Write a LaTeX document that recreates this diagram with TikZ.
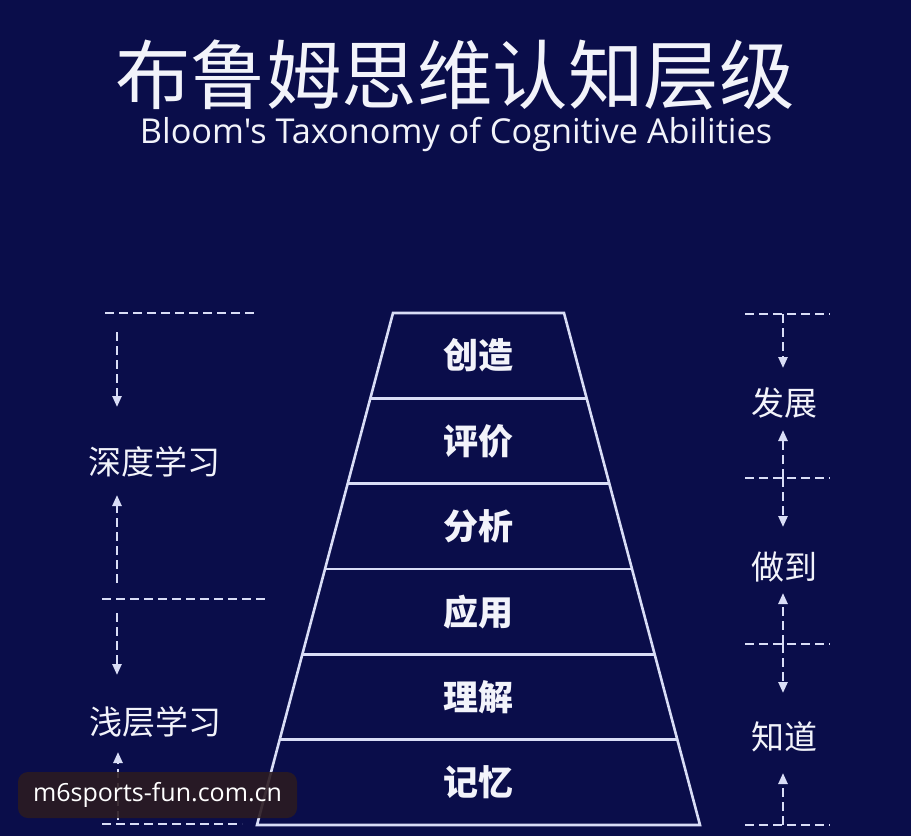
\documentclass[tikz,border=0pt]{standalone}
\usepackage{fontspec}
\usetikzlibrary{arrows.meta,calc}
\newfontfamily\cjk{Noto Sans CJK SC}
\newfontfamily\latin{Open Sans}
\definecolor{bg}{HTML}{0A0D4A}
\definecolor{edge}{HTML}{D9DDF6}
\definecolor{ink}{HTML}{F2F3FA}
\definecolor{mark}{HTML}{2B1B22}
\tikzset{
  dline/.style={edge, line width=2.4pt, dash pattern=on 9pt off 5pt},
  darrow/.style={dline, -{Triangle[length=11pt,width=9pt]}},
  pline/.style={edge, line width=2.6pt},
  level/.style={text=ink, font=\cjk\bfseries\fontsize{35}{40}\selectfont},
  side/.style={text=ink, font=\cjk\fontsize{33}{40}\selectfont},
}
\begin{document}
\begin{tikzpicture}[x=1pt,y=-1pt]
    \fill[bg] (0,0) rectangle (911,836);
    \useasboundingbox (0,0) rectangle (911,836);
    % title
    \node[text=ink, font=\cjk\fontsize{75.5}{80}\selectfont] (title) at (455,75) {布鲁姆思维认知层级};
    \node[text=ink, font=\latin\fontsize{34.3}{40}\selectfont] (subtitle) at (456,134) {Bloom's Taxonomy of Cognitive Abilities};
    % pyramid
    \coordinate (tl) at (393,313); \coordinate (tr) at (564,313);
    \coordinate (bl) at (257,825); \coordinate (br) at (700,825);
    \coordinate (tc) at (478.5,313); \coordinate (bc) at (478.5,825);
    \draw[pline] (tl) -- (tr) -- (br) -- (bl) -- cycle;
    \foreach \i in {1,...,5}
        \draw[pline] ($(tl)!\i/6!(bl)$) -- ($(tr)!\i/6!(br)$);
    \foreach \t [count=\i] in {创造,评价,分析,应用,理解,记忆}
        \node[level] (lvl\i) at ($(tc)!{(\i-0.5)/6}!(bc)$) {\t};
    % left: deep / shallow learning
    \draw[dline] (105,313) -- (257,313) (102,599) -- (265,599) (102,824) -- (242,824);
    \node[side] (deep) at (154,462) {深度学习};
    \node[side] (shallow) at (155,722) {浅层学习};
    \coordinate (d1) at (117,332); \coordinate (d1e) at (117,407);
    \coordinate (d2) at (117,583); \coordinate (d2e) at (117,495);
    \coordinate (s1) at (117,613); \coordinate (s1e) at (117,675);
    \coordinate (s2) at (118,820); \coordinate (s2e) at (118,752);
    \draw[darrow] (d1) -- (d1e);
    \draw[darrow] (d2) -- (d2e);
    \draw[darrow] (s1) -- (s1e);
    \draw[darrow] (s2) -- (s2e);
    % right: develop / do / know
    \draw[dline] (745,314) -- (830,314) (745,478) -- (830,478) (745,644) -- (830,644) (745,825) -- (830,825);
    \node[side] (grow) at (784,403) {发展};
    \node[side] (doit) at (784,567) {做到};
    \node[side] (know) at (784,737) {知道};
    \coordinate (r0) at (783,314); \coordinate (r1) at (783,478);
    \coordinate (r2) at (783,644); \coordinate (r3) at (783,825);
    \draw[darrow] (r0) -- (783,368);
    \draw[darrow] (r1) -- (783,430);
    \draw[darrow] (r1) -- (783,527);
    \draw[darrow] (r2) -- (783,593);
    \draw[darrow] (r2) -- (783,693);
    \draw[darrow] (r3) -- (783,773);
    % watermark
    \node[fill=mark, fill opacity=0.9, text opacity=1, rounded corners=10pt, minimum width=279pt, minimum height=46pt, text=white, font=\latin\fontsize{25}{30}\selectfont] (site) at (157.5,795) {m6sports-fun.com.cn};
\end{tikzpicture}
\end{document}
